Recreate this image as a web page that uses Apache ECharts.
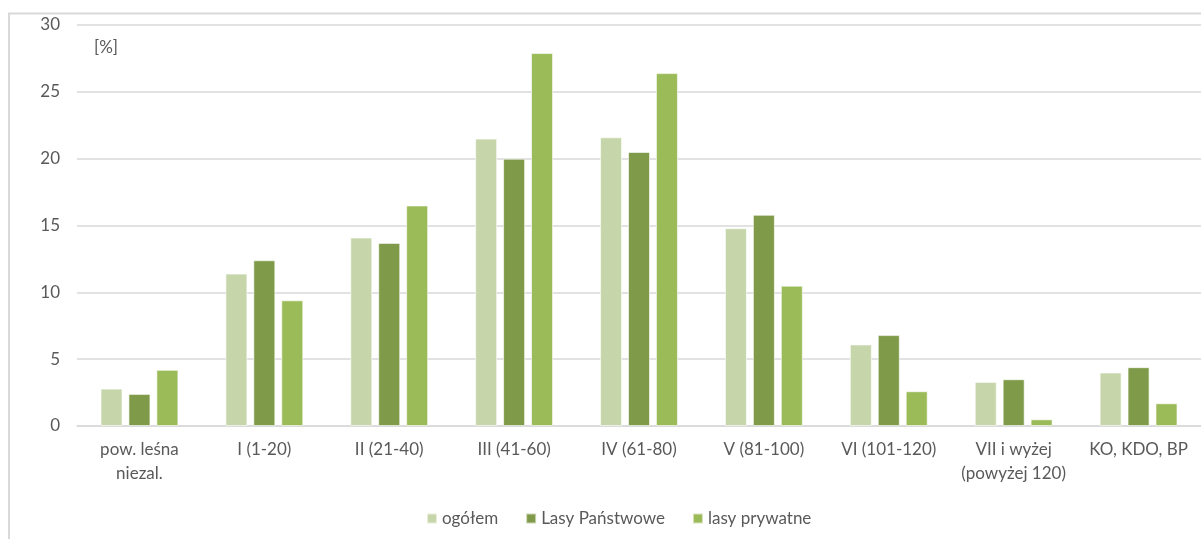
<!DOCTYPE html>
<html>
<head>
<meta charset="utf-8">
<script src="https://cdn.jsdelivr.net/npm/echarts@6/dist/echarts.min.js"></script>
<style>
  html, body { margin: 0; padding: 0; background: #fff; }
  #chart { width: 1201px; height: 539px; }
</style>
</head>
<body>
<div id="chart"></div>
<script>
// klasy wieku drzewostanów, udział powierzchni [%]
var categories = ['pow. leśna\nniezal.', 'I (1-20)', 'II (21-40)', 'III (41-60)', 'IV (61-80)',
                  'V (81-100)', 'VI (101-120)', 'VII i wyżej\n(powyżej 120)', 'KO, KDO, BP'];
var seriesNames = ['ogółem', 'Lasy Państwowe', 'lasy prywatne'];
var ogolem      = [2.8, 11.4, 14.1, 21.5, 21.6, 14.8, 6.1, 3.3, 4.0];
var lasyPanstw  = [2.4, 12.4, 13.7, 20.0, 20.5, 15.8, 6.8, 3.5, 4.4];
var lasyPrywat  = [4.2, 9.4, 16.5, 27.9, 26.4, 10.5, 2.6, 0.5, 1.7];
var yTicks = [0, 5, 10, 15, 20, 25, 30];

var colors = ['#C6D6AA', '#7F9A48', '#9BBB59'];
var fontFam = 'Lato, "Open Sans", sans-serif';
var textColor = '#595959';

var chart = echarts.init(document.getElementById('chart'));

function barSeries(name, data, idx) {
    return {
        name: name,
        type: 'bar',
        data: data,
        barWidth: 22,
        barGap: '27%',
        itemStyle: {
            color: colors[idx],
            borderColor: 'rgba(255,255,255,0.6)',
            borderWidth: 1
        }
    };
}

var option = {
    animation: false,
    textStyle: { fontFamily: fontFam },
    graphic: [
        {
            type: 'rect',
            shape: { x: 9, y: 13.5, width: 1300, height: 600 },
            style: { fill: 'none', stroke: '#D9D9D9', lineWidth: 2 },
            z: -1
        },
        {
            type: 'text',
            left: 94,
            top: 39,
            style: { text: '[%]', fill: textColor, font: '17px ' + fontFam }
        }
    ],
    grid: { left: 77, right: -15, top: 25, bottom: 113 },
    legend: {
        left: 421,
        top: 505,
        itemWidth: 10,
        itemHeight: 10,
        itemGap: 27,
        icon: 'rect',
        data: seriesNames,
        textStyle: { color: textColor, fontSize: 17, fontFamily: fontFam }
    },
    xAxis: {
        type: 'category',
        data: categories,
        axisLine: { show: true, lineStyle: { color: '#D9D9D9', width: 1.5 } },
        axisTick: { show: false },
        axisLabel: {
            interval: 0,
            margin: 12,
            color: textColor,
            fontSize: 17,
            lineHeight: 24,
            fontFamily: fontFam
        }
    },
    yAxis: {
        type: 'value',
        min: yTicks[0],
        max: yTicks[yTicks.length - 1],
        interval: 5,
        axisLine: { show: false },
        axisTick: { show: false },
        axisLabel: { color: textColor, fontSize: 17, margin: 17, fontFamily: fontFam },
        splitLine: { lineStyle: { color: '#D9D9D9', width: 1.5 } }
    },
    series: [
        barSeries(seriesNames[0], ogolem, 0),
        barSeries(seriesNames[1], lasyPanstw, 1),
        barSeries(seriesNames[2], lasyPrywat, 2)
    ]
};
chart.setOption(option);
</script>
</body>
</html>
